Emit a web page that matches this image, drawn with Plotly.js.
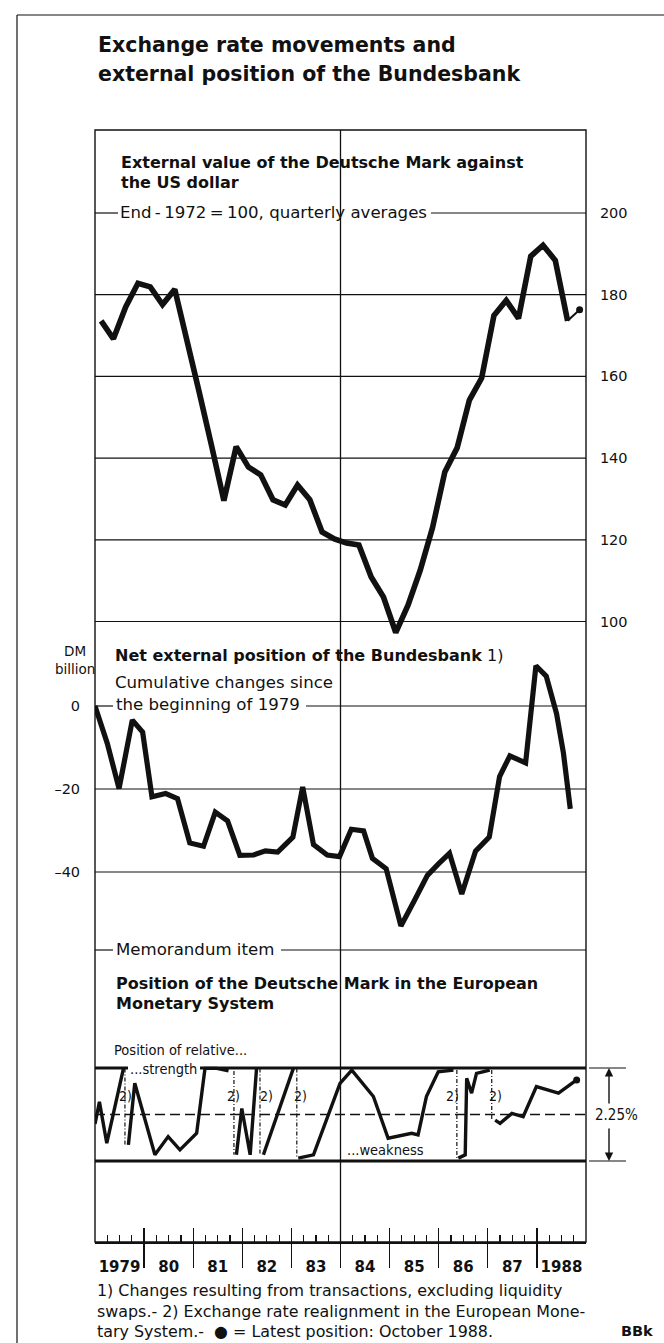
<!DOCTYPE html>
<html><head><meta charset="utf-8">
<script src="https://cdn.plot.ly/plotly-3.0.1.min.js"></script>
<style>html,body{margin:0;padding:0;background:#fff;}#chart{width:664px;height:1343px;}</style>
</head><body><div id="chart"></div>
<script>
// ===================== DATA =====================
// External value of the Deutsche Mark against the US dollar (End-1972=100), quarterly averages 1979Q1..1988Q3
const dmUsdStartYear = 1979;
const dmUsdIndex = [173.6,169.2,177.0,182.8,181.9,177.6,181.3,168.0,156.0,143.0,
                    129.6,142.8,137.8,135.9,129.8,128.5,133.4,129.8,121.9,120.2,
                    119.2,118.7,110.9,106.0,97.3,104.0,112.6,123.0,136.6,142.5,
                    154.2,159.6,174.9,178.6,174.2,189.4,192.1,188.4,173.6];
const dmUsdLatestTime = 1988.87;   // October 1988
const dmUsdLatest = 176.3;

// Net external position of the Bundesbank, cumulative changes since beginning of 1979 (DM billion)
const netPosTime = [1979.00,1979.25,1979.49,1979.76,1979.97,1980.16,1980.44,1980.68,1980.93,1981.21,
                    1981.45,1981.70,1981.95,1982.23,1982.47,1982.72,1983.03,1983.23,1983.45,1983.73,
                    1983.98,1984.22,1984.47,1984.65,1984.93,1985.23,1985.50,1985.77,1986.00,1986.22,
                    1986.47,1986.75,1987.03,1987.24,1987.45,1987.77,1987.98,1988.19,1988.40,1988.54,1988.68];
const netPos = [0,-9,-19.9,-3.4,-6.3,-21.9,-21.1,-22.3,-33.0,-33.8,
                -25.6,-27.7,-36.0,-35.9,-34.9,-35.2,-31.6,-19.5,-33.4,-35.9,
                -36.3,-29.7,-30.1,-36.7,-39.2,-53.0,-47.0,-40.8,-38.0,-35.5,
                -45.3,-35.0,-31.6,-17.0,-12.0,-13.7,9.7,7.2,-1.8,-11.3,-24.8];

// Position of the DM in the EMS band (0 = weakness, 2.25 = strength); null = realignment break
const emsTime = [1979.00,1979.09,1979.24,1979.58,null,
                 1979.68,1979.81,1980.22,1980.49,1980.73,1980.97,1981.07,1981.24,1981.48,1981.72,null,
                 1981.88,1981.99,1982.16,1982.29,null,
                 1982.43,1983.04,null,
                 1983.14,1983.45,1983.99,1984.23,1984.67,1984.97,1985.45,1985.58,1985.75,1985.99,1986.30,null,
                 1986.40,1986.54,1986.57,1986.67,1986.77,1987.04,null,
                 1987.15,1987.25,1987.49,1987.72,1987.99,1988.44,1988.81];
const emsPos  = [0.90,1.43,0.43,2.24,null,
                 0.39,1.88,0.15,0.59,0.27,0.55,0.67,2.24,2.24,2.18,null,
                 0.15,1.27,0.15,2.24,null,
                 0.15,2.24,null,
                 0.07,0.15,1.88,2.20,1.56,0.55,0.67,0.63,1.56,2.16,2.20,null,
                 0.07,0.15,2.00,1.64,2.12,2.20,null,
                 0.99,0.91,1.15,1.07,1.80,1.64,1.96];
const realignTime   = [1979.61,1981.83,1982.36,1983.11,1986.37,1987.08];
const realignBefore = [2.24,2.18,2.24,2.24,2.20,2.20];
const realignAfter  = [0.39,0.15,0.15,0.07,0.07,0.99];
const realignLabelTime = [1979.63,1981.83,1982.50,1983.19,1986.28,1987.15];
const emsBandLow = 0, emsBandHigh = 2.25;

const yearLabels = ['1979','80','81','82','83','84','85','86','87','1988'];
const topTicks = [100,120,140,160,180,200];
const midTicks = [0,-20,-40];
const midTickText = ['0','\u201320','\u201340'];

// ===================== LAYOUT HELPERS =====================
const PL=95, PR=586, PT=130, PB=1242;
const px2x = p => (p-PL)/(PR-PL);
const py2y = p => (PB-p)/(PB-PT);
const INK = '#111';
const FONT = 'DejaVu Sans';
const CFONT = 'DejaVu Sans Condensed, DejaVu Sans';
const REG = 16.6;

// panel geometry (pixels)
const topDomBottom = 640, midDomBottom = 1005;
const topScale = {v0:100, p0:621.5, k:4.085};   // px per unit
const midScale = {v0:0, p0:706, k:4.15};
const emsScale = {v0:0, p0:1161, k:41.333};
function rangeFor(s, pTop, pBot){ return [s.v0 - (pBot-s.p0)/s.k, s.v0 + (s.p0-pTop)/s.k]; }

// ===================== TRACES =====================
const dmUsdTime = dmUsdIndex.map((_, i) => dmUsdStartYear + (i + 0.5) / 4);
const last = dmUsdIndex.length - 1;
const traces = [];
traces.push({x: dmUsdTime, y: dmUsdIndex, xaxis:'x', yaxis:'y', mode:'lines',
  line:{color:INK, width:5.6}, hoverinfo:'skip'});
traces.push({x:[dmUsdTime[last], dmUsdLatestTime], y:[dmUsdIndex[last], dmUsdLatest], xaxis:'x', yaxis:'y',
  mode:'lines', line:{color:INK, width:2}, hoverinfo:'skip'});
traces.push({x:[dmUsdLatestTime], y:[dmUsdLatest], xaxis:'x', yaxis:'y', mode:'markers',
  marker:{color:INK, size:7}, hoverinfo:'skip'});
traces.push({x: netPosTime, y: netPos, xaxis:'x', yaxis:'y2', mode:'lines',
  line:{color:INK, width:5.2}, hoverinfo:'skip'});
traces.push({x: emsTime, y: emsPos, xaxis:'x', yaxis:'y3', mode:'lines', connectgaps:false,
  line:{color:INK, width:3.4}, hoverinfo:'skip'});
const rx=[], ry=[];
realignTime.forEach((t,i)=>{ rx.push(t,t,null); ry.push(realignBefore[i], realignAfter[i], null); });
traces.push({x:rx, y:ry, xaxis:'x', yaxis:'y3', mode:'lines', line:{color:INK, width:1.2, dash:'4px,2px,1px,2px'}, hoverinfo:'skip'});
const emsLastIdx = emsPos.length-1;
traces.push({x:[emsTime[emsLastIdx]], y:[emsPos[emsLastIdx]], xaxis:'x', yaxis:'y3', mode:'markers',
  marker:{color:INK, size:7}, hoverinfo:'skip'});
// empty traces so that overlay axes exist
traces.push({x:[], y:[], xaxis:'x2', yaxis:'y3', mode:'lines', hoverinfo:'skip'});
traces.push({x:[], y:[], xaxis:'x3', yaxis:'y3', mode:'lines', hoverinfo:'skip'});
traces.push({x:[], y:[], xaxis:'x', yaxis:'y4', mode:'lines', hoverinfo:'skip'});

// ===================== SHAPES =====================
const shapes = [];
function hline(yref, yv, p0, p1, w, dash){
  shapes.push({type:'line', xref:'paper', yref:yref, x0:px2x(p0), x1:px2x(p1), y0:yv, y1:yv,
    line:{color:INK, width:w, dash:dash||'solid'}, layer:'below'});
}
function pline(x0,y0,x1,y1,w){
  shapes.push({type:'line', xref:'paper', yref:'paper', x0:px2x(x0), x1:px2x(x1), y0:py2y(y0), y1:py2y(y1),
    line:{color:INK, width:w}});
}
// frame
shapes.push({type:'rect', xref:'paper', yref:'paper', x0:0, x1:1, y0:0, y1:1, line:{color:INK, width:1.4}});
// 1984 divider
shapes.push({type:'line', xref:'x', yref:'paper', x0:1984, x1:1984, y0:0, y1:1, line:{color:INK, width:1.3}});
// top panel grid
topTicks.forEach(v => { if (v !== 200) hline('y', v, PL, PR, 1.2); });
hline('y', 200, PL, 118, 1.2); hline('y', 200, 431, PR, 1.2);
// middle panel grid
midTicks.forEach(v => { if (v !== 0) hline('y2', v, PL, PR, 1.2); });
hline('y2', 0, PL, 113, 1.2); hline('y2', 0, 306, PR, 1.2);
// memorandum line
pline(PL, 950, 113, 950, 1.2); pline(281, 950, PR, 950, 1.2);
// EMS band
hline('y3', emsBandHigh, PL, 128, 2.8); hline('y3', emsBandHigh, 200, PR, 2.8);
hline('y3', emsBandLow, PL, PR, 2.8);
hline('y3', (emsBandLow+emsBandHigh)/2, PL, PR, 1.5, '10px,5px');
hline('y3', emsBandHigh, 589, 626, 1.2); hline('y3', emsBandLow, 589, 626, 1.2);
// outer border
pline(17, 15, 664, 15, 1.2); pline(17, 15, 17, 1343, 1.2);

// ===================== ANNOTATIONS =====================
const anns = [];
function ann(text, px, py, size, opts){
  anns.push(Object.assign({text:text, x:px2x(px), y:py2y(py), xref:'paper', yref:'paper',
    xanchor:'left', yanchor:'middle', showarrow:false, align:'left', borderpad:0,
    font:{family:FONT, size:size, color:INK}}, opts||{}));
}
const bold = s => ({font:{family:FONT, size:s, color:INK, weight:'bold'}});
const cond = s => ({font:{family:CFONT, size:s, color:INK}});
ann('Exchange rate movements and', 97, 45, 20.5, bold(20.5));
ann('external position of the Bundesbank', 97, 74, 20.5, bold(20.5));
ann('External value of the Deutsche Mark against', 120, 162, 16, bold(16));
ann('the US dollar', 120, 182, 16, bold(16));
ann('End\u2009-\u20091972\u2009=\u2009100, quarterly averages', 119, 212, REG);
ann('<b>Net external position of the Bundesbank</b> 1)', 114, 656, 16);
ann('Cumulative changes since', 114, 682, REG);
ann('the beginning of 1979', 115, 704, REG);
ann('DM', 75, 651, 13.5, {xanchor:'center'});
ann('billion', 75, 669, 13.5, {xanchor:'center'});
ann('Memorandum item', 115, 949, REG);
ann('Position of the Deutsche Mark in the European', 115, 983, 16, bold(16));
ann('Monetary System', 115, 1003, 16, bold(16));
ann('Position of relative...', 113, 1050, 14.5, cond(14.5));
ann('...strength', 129, 1069, 14.5, cond(14.5));
ann('...weakness', 346, 1150, 14.5, cond(14.5));
realignLabelTime.forEach(t => {
  anns.push({text:'2)', x:t, xref:'x', y:1.57, yref:'y3', xanchor:'center', yanchor:'middle', showarrow:false,
    borderpad:0, font:{family:CFONT, size:14, color:INK}});
});
ann('2.25%', 616, 1115, 15, Object.assign({xanchor:'center'}, cond(15)));
anns.push({text:'', x:px2x(609), xref:'paper', y:emsBandHigh, yref:'y3', showarrow:true, arrowhead:2,
  arrowsize:1.2, arrowwidth:1.4, arrowcolor:INK, ax:0, ay:37});
anns.push({text:'', x:px2x(609), xref:'paper', y:emsBandLow, yref:'y3', showarrow:true, arrowhead:2,
  arrowsize:1.2, arrowwidth:1.4, arrowcolor:INK, ax:0, ay:-34});
ann('1) Changes resulting from transactions, excluding liquidity', 96, 1290, 15.9);
ann('swaps.- 2) Exchange rate realignment in the European Mone-', 96, 1311, 15.9);
ann('tary System.-  \u25CF = Latest position: October 1988.', 96, 1331, 15.9);
ann('BBk', 620, 1331, 14.5, bold(14.5));

// ===================== AXES =====================
const yearBounds = [], yearMid = [], quarterTicks = [];
for (let i = 0; i < yearLabels.length; i++) {
  const y0 = dmUsdStartYear + i;
  if (i > 0) yearBounds.push(y0);
  yearMid.push(y0 + 0.5);
  quarterTicks.push(y0 + 0.25, y0 + 0.5, y0 + 0.75);
}
const xr = [dmUsdStartYear, dmUsdStartYear + yearLabels.length];
const dTop = py2y(topDomBottom), dMid = py2y(midDomBottom);

const layout = {
  width:664, height:1343, margin:{l:PL, r:664-PR, t:PT, b:1343-PB, pad:0},
  paper_bgcolor:'#fff', plot_bgcolor:'rgba(0,0,0,0)', showlegend:false,
  font:{family:FONT, color:INK},
  xaxis:{range:xr, anchor:'y3', domain:[0,1], showgrid:false, zeroline:false, showline:true,
    linecolor:INK, linewidth:1.5, tickmode:'array', tickvals:yearBounds, ticks:'outside', ticklen:24,
    tickwidth:1.3, tickcolor:INK, showticklabels:false,
    minor:{tickmode:'array', tickvals:quarterTicks, ticks:'inside', ticklen:7, tickwidth:1.2, tickcolor:INK, showgrid:false}},
  xaxis2:{range:xr, overlaying:'x', anchor:'y3', tickmode:'array', tickvals:yearMid, ticktext:yearLabels,
    ticks:'outside', ticklen:11, tickcolor:'rgba(0,0,0,0)', showline:false, showgrid:false, zeroline:false,
    tickfont:{family:FONT, size:15, color:INK, weight:'bold'}},
  xaxis3:{range:xr, overlaying:'x', anchor:'y3', tickmode:'array', tickvals:yearBounds, ticks:'inside',
    ticklen:14, tickwidth:1.3, tickcolor:INK, showticklabels:false, showline:false, showgrid:false, zeroline:false},
  yaxis:{domain:[dTop,1], range:rangeFor(topScale, PT, topDomBottom), anchor:'x', showgrid:false,
    zeroline:false, showticklabels:false, ticks:'', showline:false},
  yaxis4:{overlaying:'y', side:'right', anchor:'x', range:rangeFor(topScale, PT, topDomBottom),
    tickmode:'array', tickvals:topTicks, ticktext:topTicks.map(String), ticks:'outside', ticklen:10,
    tickcolor:'rgba(0,0,0,0)', showgrid:false, zeroline:false, showline:false,
    tickfont:{family:FONT, size:14.5, color:INK}},
  yaxis2:{domain:[dMid,dTop], range:rangeFor(midScale, topDomBottom, midDomBottom), anchor:'x', side:'left',
    tickmode:'array', tickvals:midTicks, ticktext:midTickText, ticks:'outside', ticklen:11,
    tickcolor:'rgba(0,0,0,0)', showgrid:false, zeroline:false, showline:false,
    tickfont:{family:FONT, size:14.5, color:INK}},
  yaxis3:{domain:[0,dMid], range:rangeFor(emsScale, midDomBottom, PB), anchor:'x', showgrid:false,
    zeroline:false, showticklabels:false, ticks:'', showline:false},
  shapes:shapes, annotations:anns
};
Plotly.newPlot('chart', traces, layout, {staticPlot:true, displayModeBar:false});
</script></body></html>
